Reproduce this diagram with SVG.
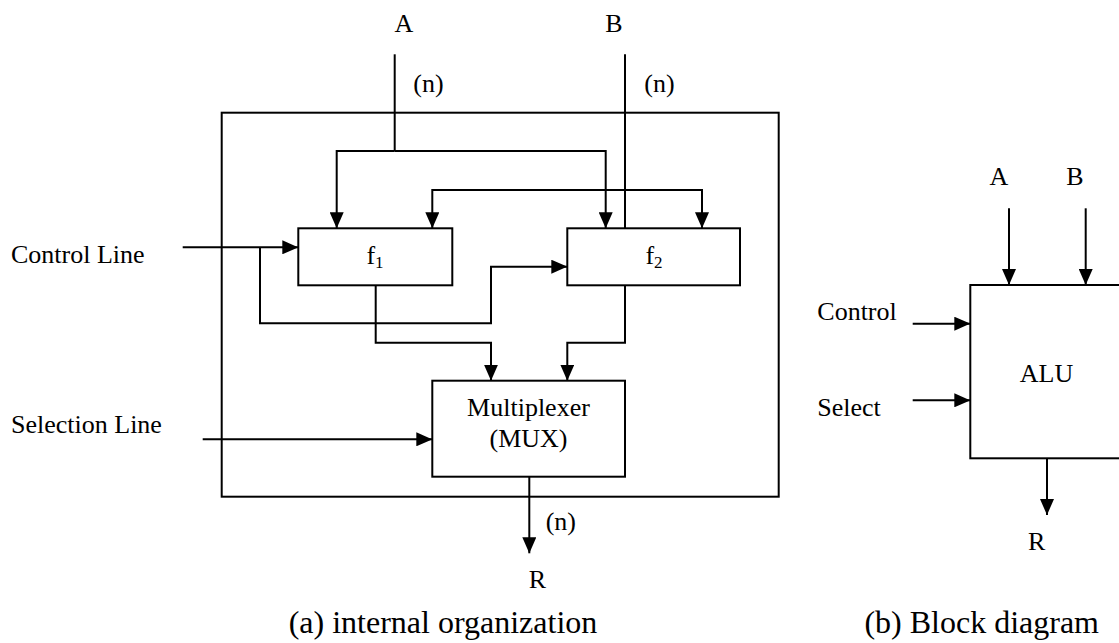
<svg xmlns="http://www.w3.org/2000/svg" width="1119" height="643" viewBox="0 0 1119 643">
<style>
.box{fill:none;stroke:#000;stroke-width:2}
.ln{fill:none;stroke:#000;stroke-width:2}
.arr{marker-end:url(#ah)}
text{font-family:"Liberation Serif","Times New Roman",serif;font-size:26px;fill:#000}
.mid{text-anchor:middle}
.cap{font-size:32px}
.sub{font-size:17px}
</style>
<defs>
<marker id="ah" markerUnits="userSpaceOnUse" markerWidth="16" markerHeight="14" refX="16" refY="7" orient="auto">
<path d="M0,0 L16,7 L0,14 Z" fill="#000"/>
</marker>
</defs>
<rect width="1119" height="643" fill="#fff"/>

<g id="alu-internal">
<rect class="box" x="221.7" y="112.7" width="557" height="384"/>
</g>

<g id="connectors">
<path class="ln" d="M394.7,54.3 V151"/>
<path class="ln arr" d="M394.7,151 H336.7 V228.3"/>
<path class="ln arr" d="M394.7,151 H605.7 V228.3"/>
<path class="ln" d="M625,54.3 V228.3"/>
<path class="ln arr" d="M567,190 H432.3 V228.3"/>
<path class="ln arr" d="M567,190 H702 V228.3"/>
<path class="ln arr" d="M182.7,247.3 H298.3"/>
<path class="ln arr" d="M260,247.3 V323.3 H491 V266.7 H567.3"/>
<path class="ln arr" d="M375.7,285.3 V342.7 H491 V380.7"/>
<path class="ln arr" d="M625,285.3 V342.7 H567.3 V380.7"/>
<path class="ln arr" d="M202.7,439.3 H432.3"/>
<path class="ln arr" d="M529.3,476.7 V553.3"/>
<path class="ln arr" d="M1009,208.3 V285"/>
<path class="ln arr" d="M1085.7,208.3 V285"/>
<path class="ln arr" d="M912.7,323.7 H970.3"/>
<path class="ln arr" d="M912.7,400.3 H970.3"/>
<path class="ln arr" d="M1047,458.3 V515"/>
</g>

<g id="f1">
<rect class="box" x="298.3" y="228.3" width="154" height="57"/>
<text class="mid" x="375" y="264">f<tspan class="sub" dy="4">1</tspan></text>
</g>

<g id="f2">
<rect class="box" x="567.3" y="228.3" width="172.7" height="57"/>
<text class="mid" x="654" y="264">f<tspan class="sub" dy="4">2</tspan></text>
</g>

<g id="mux">
<rect class="box" x="432.3" y="380.7" width="192.7" height="96"/>
<text class="mid" x="528.5" y="416">Multiplexer</text>
<text class="mid" x="528.5" y="446.5">(MUX)</text>
</g>

<g id="alu">
<rect class="box" x="970.3" y="285" width="200" height="173.3"/>
<text class="mid" x="1046.5" y="381.7">ALU</text>
</g>

<g id="labels">
<text class="mid" x="404" y="32.3">A</text>
<text class="mid" x="614" y="32.3">B</text>
<text x="413.3" y="91.7">(n)</text>
<text x="644.3" y="91.7">(n)</text>
<text x="11" y="262.7">Control Line</text>
<text x="11" y="433.3">Selection Line</text>
<text x="545.7" y="530">(n)</text>
<text class="mid" x="537.3" y="588.3">R</text>
<text class="mid cap" x="443" y="633">(a) internal organization</text>
<text class="mid" x="999" y="185">A</text>
<text class="mid" x="1075" y="185">B</text>
<text x="817.3" y="320">Control</text>
<text x="817.3" y="415.7">Select</text>
<text class="mid" x="1036.7" y="550">R</text>
<text class="mid cap" x="981.7" y="633">(b) Block diagram</text>
</g>
</svg>
